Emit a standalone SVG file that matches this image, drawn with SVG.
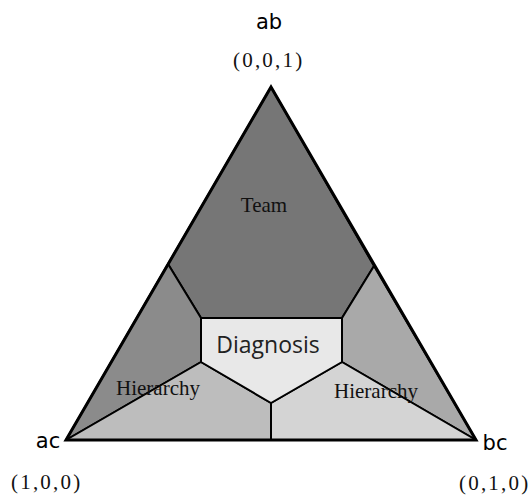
<svg xmlns="http://www.w3.org/2000/svg" width="530" height="497" viewBox="0 0 530 497">
<style>
.reg{stroke:#000;stroke-width:2;stroke-linejoin:round}
.lbl{font-family:"DejaVu Sans","Liberation Sans",sans-serif;font-size:21px;fill:#000}
.coord{font-family:"Liberation Serif",serif;font-size:21px;fill:#111;letter-spacing:2.2px}
.ser{font-family:"Liberation Serif",serif;font-size:21px;fill:#111;text-anchor:middle}
</style>
<rect width="530" height="497" fill="#fff"/>
<g id="team"><polygon class="reg" fill="#767676" points="271,87 374,266 342,318 201,318 168,264"/><text class="ser" x="264" y="212">Team</text></g>
<g id="hier-left-top"><polygon class="reg" fill="#8b8b8b" points="168,264 201,318 201,362 66,440"/></g>
<g id="hier-right-top"><polygon class="reg" fill="#a9a9a9" points="374,266 476,440 342,362 342,318"/></g>
<g id="hier-left"><polygon class="reg" fill="#bdbdbd" points="66,440 201,362 271,403 271,440"/></g>
<g id="hier-right"><polygon class="reg" fill="#d4d4d4" points="476,440 342,362 271,403 271,440"/></g>
<g id="diagnosis"><polygon class="reg" fill="#e8e8e8" points="201,318 342,318 342,362 271,403 201,362"/><text x="268" y="353" text-anchor="middle" font-family="'Open Sans','Liberation Sans',sans-serif" font-size="23" fill="#222">Diagnosis</text></g>
<g id="edges"><polygon points="271,87 476,440 66,440" fill="none" stroke="#000" stroke-width="3" stroke-linejoin="miter"/></g>
<g id="hier-labels"><text class="ser" x="158" y="395">Hierarchy</text><text class="ser" x="376" y="398">Hierarchy</text></g>
<g id="ab"><text class="lbl" x="269" y="29" text-anchor="middle">ab</text><text class="coord" x="233" y="67">(0,0,1)</text></g>
<g id="ac"><text class="lbl" x="48" y="448" text-anchor="middle">ac</text><text class="coord" x="11" y="489">(1,0,0)</text></g>
<g id="bc"><text class="lbl" x="495" y="450" text-anchor="middle">bc</text><text class="coord" x="459" y="490">(0,1,0)</text></g>
</svg>
